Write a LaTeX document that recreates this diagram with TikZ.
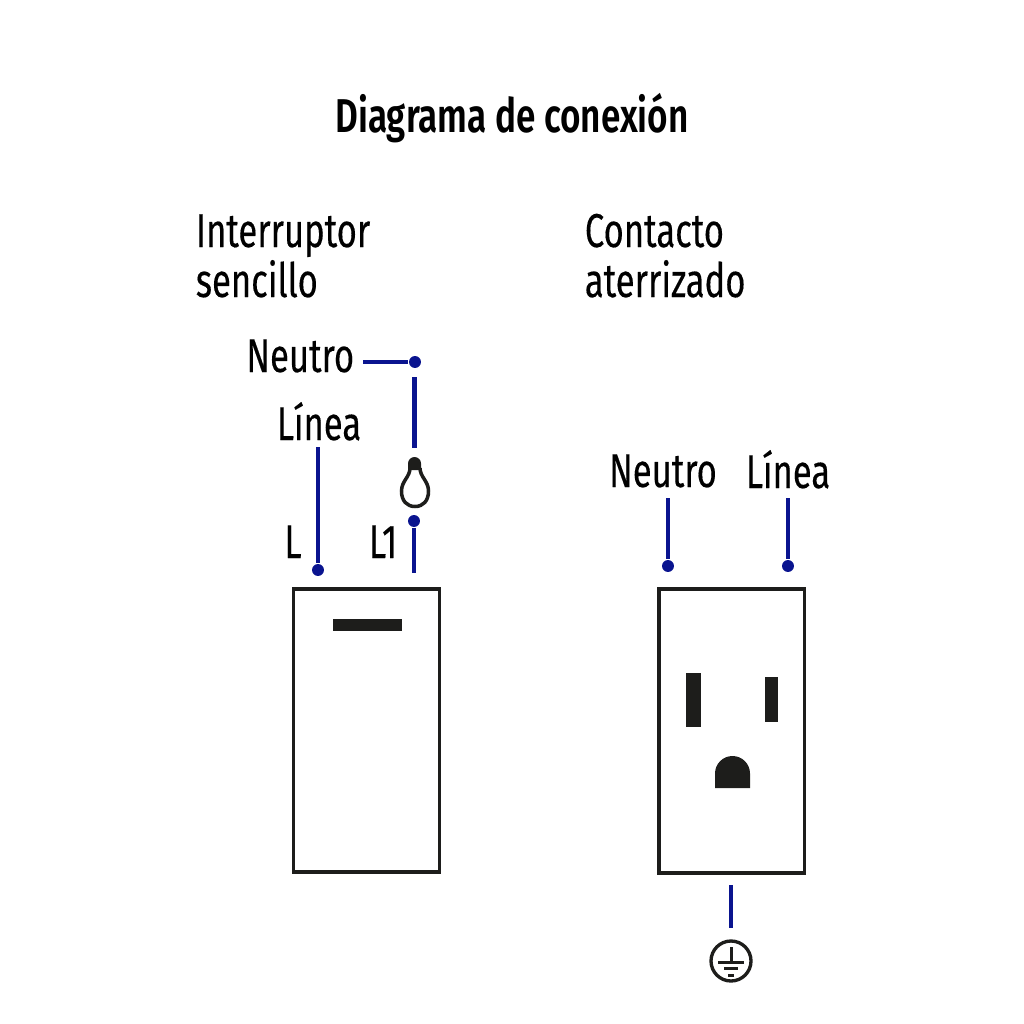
\documentclass[tikz,border=0pt]{standalone}
\usepackage{fontspec}
\setmainfont[FakeStretch=0.73,FakeBold=0.25]{Fira Sans}
\newfontfamily\titlefont[FakeStretch=0.74]{Fira Sans SemiBold}
\definecolor{wire}{HTML}{0A148F}
\definecolor{ink}{HTML}{1D1D1B}
\tikzset{
every picture/.style={
line width=1pt
},
lbl/.style={inner sep=0pt, text=black, font=\fontsize{27}{27}\selectfont},
head/.style={lbl, anchor=base west},
wireline/.style={draw=wire, line width=2.7pt},
dot/.style={circle, fill=wire, inner sep=0pt, minimum size=6.8pt},
plate/.style={draw=ink, line width=1.8pt},
slot/.style={fill=ink}
}

\begin{document}
\begin{tikzpicture}[x=0.02cm, y=-0.02cm]
\useasboundingbox (0,0) rectangle (1024,1024);

% titles
\node [lbl, font=\fontsize{27}{27}\titlefont] (title) at (512,118) {Diagrama de conexi\'on};
\node [head] (int1) at (195,247) {Interruptor};
\node [head] (int2) at (195,297) {sencillo};
\node [head] (con1) at (584,247) {Contacto};
\node [head] (con2) at (584,297) {aterrizado};

% wire labels
\node [lbl, anchor=base east] (neutroa) at (355,372) {Neutro};
\node [lbl, anchor=base] (lineaa) at (319,440) {L\'inea};
\node [lbl, anchor=base] (l) at (293,558) {L};
\node [lbl, anchor=base] (lone) at (383,558) {L1};
\node [lbl, anchor=base] (neutrob) at (663,487) {Neutro};
\node [lbl, anchor=base] (lineab) at (788,488) {L\'inea};

% dots and free ends
\foreach \n/\x/\y in {da/415/362, db/414/521, dc/318/570, dd/668/566, de/788/566}{
  \node [dot] (\n) at (\x,\y) {};
}
\foreach \n/\x/\y in {na/363/362, nb/414.5/377, nc/414.5/448, nd/414/573, ne/318/447, nf/668/498, ng/788/498, nh/731/885, ni/731/928}{
  \coordinate (\n) at (\x,\y);
}

\draw [wireline] (na) -- (da);
\draw [wireline] (nb) -- (nc);
\draw [wireline] (db) -- (nd);
\draw [wireline] (ne) -- (dc);
\draw [wireline] (nf) -- (dd);
\draw [wireline] (ng) -- (de);
\draw [wireline] (nh) -- (ni);

% bulb
\draw [draw=ink, line width=2pt] (410,468) .. controls (410,477) and (401.5,481) .. (401.5,491)
  .. controls (401.5,501) and (407,506.5) .. (415,506.5)
  .. controls (423,506.5) and (428.5,501) .. (428.5,491)
  .. controls (428.5,481) and (420,477) .. (420,468);
\fill [ink] (408,470) -- (408,463.5) arc (180:360:6.5) -- (421,470) -- cycle;

% plates
\node [plate, minimum width=2.92cm, minimum height=5.66cm, inner sep=0pt] (switch) at (366.8,730.5) {};
\node [plate, minimum width=2.91cm, minimum height=5.68cm, inner sep=0pt] (socket) at (731.8,731) {};

% slots
\fill [slot] (333,619) rectangle (402,631);
\fill [slot] (686,673) rectangle (701,727);
\fill [slot] (765,677) rectangle (778,722);
\fill [slot] (715,788) -- (715,773.5) arc (180:360:17.5) -- (750,788) -- cycle;

% earth
\node [circle, draw=ink, line width=1.9pt, minimum size=0.8cm, inner sep=0pt] (earth) at (731,961) {};
\draw [ink, line width=1.7pt] (731,947) -- (731,962);
\draw [ink, line width=1.7pt] (718,962) -- (744,962);
\draw [ink, line width=1.7pt] (724,968.5) -- (738,968.5);
\draw [ink, line width=1.7pt] (728,975) -- (734,975);
\end{tikzpicture}
\end{document}
